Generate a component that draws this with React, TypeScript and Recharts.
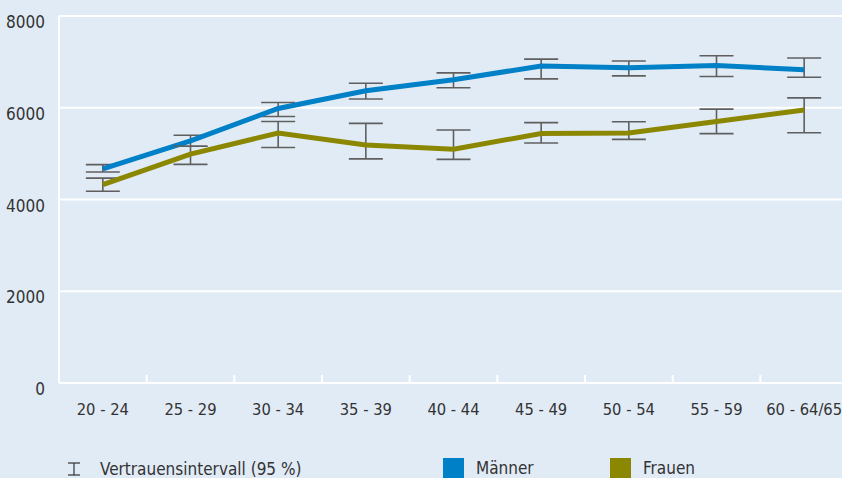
import React from 'react';
import { LineChart, Line, XAxis, YAxis, CartesianGrid, ErrorBar, Legend } from 'recharts';

const ageGroups = ['20 - 24', '25 - 29', '30 - 34', '35 - 39', '40 - 44', '45 - 49', '50 - 54', '55 - 59', '60 - 64/65'];

const maennerWerte = [4670, 5280, 5985, 6370, 6610, 6910, 6870, 6920, 6830];
const maennerUnten = [4600, 5160, 5810, 6190, 6435, 6630, 6695, 6680, 6665];
const maennerOben = [4760, 5400, 6115, 6535, 6760, 7060, 7020, 7135, 7085];

const frauenWerte = [4325, 4990, 5450, 5190, 5095, 5440, 5450, 5700, 5950];
const frauenUnten = [4180, 4765, 5135, 4885, 4875, 5230, 5310, 5435, 5455];
const frauenOben = [4465, 5160, 5700, 5660, 5515, 5675, 5695, 5970, 6215];

const yTicks = [0, 2000, 4000, 6000, 8000];
const seriesOrder = ['Männer', 'Frauen'];
const ciLabel = 'Vertrauensintervall (95 %)';

const BLUE = '#0080c6';
const OLIVE = '#8b8700';
const BG = '#e1ebf6';
const TEXT = '#333333';
const BAR_GREY = '#5f5f5f';
const FONT = '"DejaVu Sans Condensed", "Liberation Sans Narrow", Roboto, sans-serif';

// layout: plot starts at x=59, each age group gets an equal band
const CHART_W = 848;
const Y_AXIS_W = 59;
const HALF_BAND = (CHART_W - Y_AXIS_W) / ageGroups.length / 2;

const data = ageGroups.map((gruppe, i) => ({
  gruppe,
  maenner: maennerWerte[i],
  maennerCI: [maennerWerte[i] - maennerUnten[i], maennerOben[i] - maennerWerte[i]],
  frauen: frauenWerte[i],
  frauenCI: [frauenWerte[i] - frauenUnten[i], frauenOben[i] - frauenWerte[i]],
}));

const YTick = ({ x, y, payload }: any) => (
  <text x={x} y={y + 6} textAnchor="end" dominantBaseline="central" fill={TEXT} fontSize={17} fontFamily={FONT}>
    {payload.value}
  </text>
);

const TICK_MARGIN = 20;

const XTick = ({ x, y, payload, index }: any) => (
  <g>
    {index < ageGroups.length - 1 && (
      <line
        x1={x + HALF_BAND}
        x2={x + HALF_BAND}
        y1={y - TICK_MARGIN}
        y2={y - TICK_MARGIN - 8}
        stroke="#ffffff"
        strokeWidth={2}
      />
    )}
    <text x={x} y={y} dy="0.71em" textAnchor="middle" fill={TEXT} fontSize={16.4} fontFamily={FONT}>
      {payload.value}
    </text>
  </g>
);

const CiIcon = () => (
  <svg width={14} height={14} style={{ display: 'block' }}>
    <line x1={1} y1={1} x2={13} y2={1} stroke={TEXT} strokeWidth={1.2} />
    <line x1={7} y1={1} x2={7} y2={13} stroke={TEXT} strokeWidth={1.2} />
    <line x1={1} y1={13} x2={13} y2={13} stroke={TEXT} strokeWidth={1.2} />
  </svg>
);

const LegendContent = ({ payload }: any) => {
  const items = [...(payload || [])].sort(
    (a: any, b: any) => seriesOrder.indexOf(a.value) - seriesOrder.indexOf(b.value)
  );
  return (
    <div style={{ display: 'flex', alignItems: 'flex-start', height: 30, fontFamily: FONT, fontSize: 17, color: TEXT, lineHeight: '18px' }}>
      <div style={{ display: 'flex', alignItems: 'center', marginLeft: 67, marginTop: 12, width: 376 }}>
        <CiIcon />
        <span style={{ marginLeft: 19 }}>{ciLabel}</span>
      </div>
      {items.map((item: any) => (
        <div key={item.value} style={{ display: 'flex', alignItems: 'flex-start', width: 167, marginTop: 10 }}>
          <span style={{ width: 21, height: 20, background: item.color, display: 'inline-block' }} />
          <span style={{ marginLeft: 12, marginTop: 1 }}>{item.value}</span>
        </div>
      ))}
    </div>
  );
};

export default function App() {
  return (
    <div style={{ position: 'absolute', left: 0, top: 0, width: 842, height: 478, overflow: 'hidden', background: BG }}>
      <LineChart width={CHART_W} height={478} data={data} margin={{ top: 16, right: 0, bottom: 0, left: 0 }}>
        <CartesianGrid vertical={false} stroke="#ffffff" strokeWidth={2} />
        <XAxis
          dataKey="gruppe"
          axisLine={{ stroke: '#ffffff', strokeWidth: 2 }}
          tickLine={false}
          tickSize={0}
          tickMargin={TICK_MARGIN}
          height={65}
          interval={0}
          padding={{ left: HALF_BAND, right: HALF_BAND }}
          tick={<XTick />}
        />
        <YAxis
          domain={[0, 8000]}
          ticks={yTicks}
          width={Y_AXIS_W}
          axisLine={{ stroke: '#ffffff', strokeWidth: 2 }}
          tickLine={false}
          tickSize={0}
          tickMargin={14}
          tick={<YTick />}
        />
        <Legend verticalAlign="bottom" align="left" content={<LegendContent />} wrapperStyle={{ left: 0, width: 842 }} />
        <Line dataKey="maenner" name="Männer" stroke={BLUE} strokeWidth={5} dot={false} isAnimationActive={false} type="linear">
          <ErrorBar dataKey="maennerCI" width={17} stroke={BAR_GREY} strokeWidth={1.6} direction="y" />
        </Line>
        <Line dataKey="frauen" name="Frauen" stroke={OLIVE} strokeWidth={5} dot={false} isAnimationActive={false} type="linear">
          <ErrorBar dataKey="frauenCI" width={17} stroke={BAR_GREY} strokeWidth={1.6} direction="y" />
        </Line>
      </LineChart>
    </div>
  );
}
